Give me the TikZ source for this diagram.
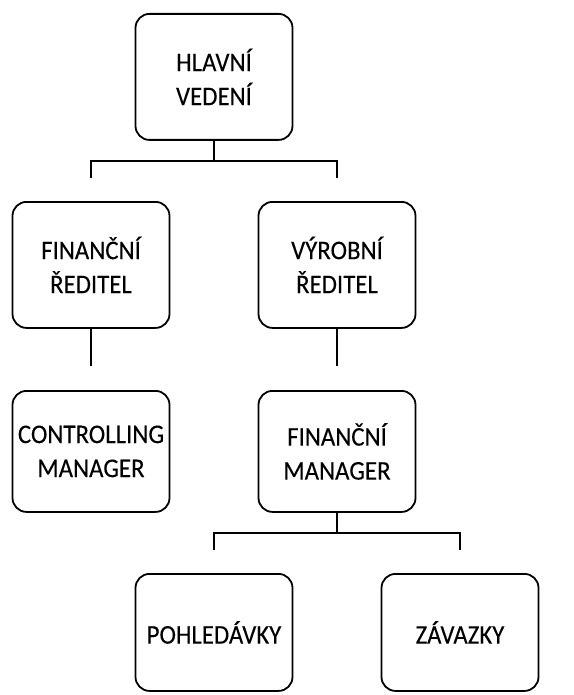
\documentclass[tikz,border=0pt]{standalone}
\usepackage{fontspec}
\newfontfamily\unitfont{Carlito}[FakeStretch=0.92, FakeBold=0.12]
\tikzset{
    unit/.style={draw, line width=1.8pt, rounded corners=14pt, anchor=north,
        minimum width=157pt, minimum height=126pt, align=center,
        font=\unitfont\fontsize{27}{34}\selectfont},
    link/.style={line width=1.8pt}
}
\begin{document}
\begin{tikzpicture}[x=1pt, y=1pt]
    \useasboundingbox (0, 0) rectangle (573, -695);

    \node[unit] (hv) at (214, -13) {HLAVNÍ\\VEDENÍ};
    \node[unit] (fr) at (91, -201) {FINANČNÍ\\ŘEDITEL};
    \node[unit] (vr) at (337, -201) {VÝROBNÍ\\ŘEDITEL};
    \node[unit, minimum height=121pt] (cm) at (91, -390) {CONTROLLING\\MANAGER};
    \node[unit, minimum height=121pt] (fm) at (337, -390) {FINANČNÍ\\MANAGER};
    \node[unit, minimum height=117pt] (po) at (214, -573) {POHLEDÁVKY};
    \node[unit, minimum height=117pt] (za) at (460, -573) {ZÁVAZKY};

    % top bracket
    \draw[link] (hv.south) -- ++(0, -20) coordinate (j1);
    \draw[link] ([yshift=23pt]fr.north) |- (j1) -| ([yshift=23pt]vr.north);

    % stems
    \foreach \a in {fr, vr}
        \draw[link] (\a.south) -- ++(0, -37);

    % bottom bracket
    \draw[link] (fm.south) -- ++(0, -20) coordinate (j2);
    \draw[link] ([yshift=23pt]po.north) |- (j2) -| ([yshift=23pt]za.north);
\end{tikzpicture}
\end{document}
